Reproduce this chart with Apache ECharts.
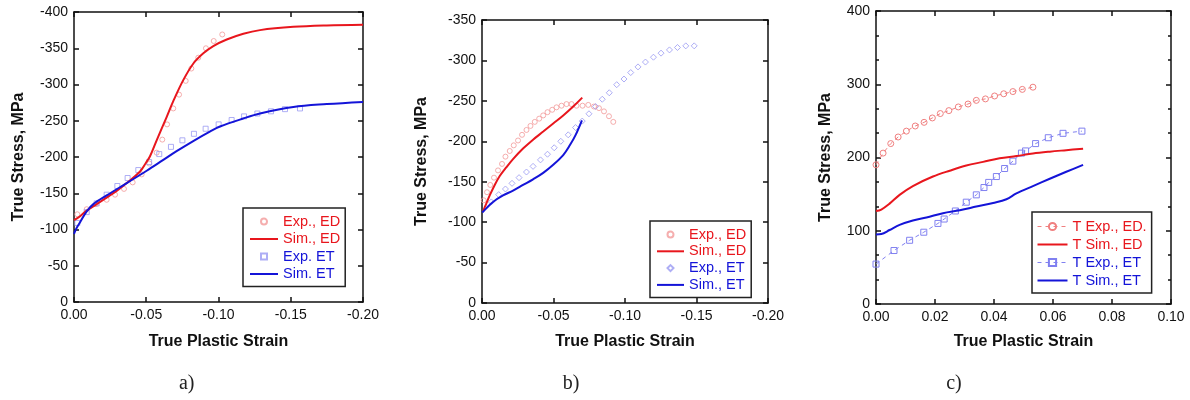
<!DOCTYPE html>
<html><head><meta charset="utf-8">
<script src="https://cdn.jsdelivr.net/npm/echarts@6/dist/echarts.min.js"></script>
<style>html,body{margin:0;padding:0;background:#fff}#c{width:1190px;height:400px}</style>
</head><body><div id="c"></div>
<script>
// ---------------- data (strain, stress) ----------------
// panel a
const aExpED = [[-0.0023,-121],[-0.0088,-128],[-0.0152,-135],[-0.0226,-141],[-0.0284,-148],[-0.0346,-156],[-0.0406,-165],[-0.0468,-176],[-0.0521,-191],[-0.0572,-206],[-0.0611,-224],[-0.0644,-245],[-0.0687,-267],[-0.0727,-286],[-0.0773,-305],[-0.0812,-322],[-0.0860,-337],[-0.0913,-350],[-0.0967,-360],[-0.1026,-369]];
const aSimED = [[0,-113],[-0.004,-118],[-0.0088,-126],[-0.0157,-135],[-0.0226,-144],[-0.0300,-154],[-0.0365,-164],[-0.0457,-180],[-0.0498,-192],[-0.0526,-201],[-0.0572,-223],[-0.0641,-255],[-0.0687,-277],[-0.0756,-306],[-0.0826,-329],[-0.0895,-343],[-0.0964,-353],[-0.1057,-362],[-0.1172,-370],[-0.1287,-375],[-0.1518,-379.5],[-0.1749,-381.5],[-0.2,-382.5]];
const aExpET = [[-0.0023,-109],[-0.0088,-124],[-0.0157,-136],[-0.0226,-148],[-0.0300,-160],[-0.0371,-171],[-0.0445,-182],[-0.0520,-193],[-0.0590,-204],[-0.0671,-214],[-0.0750,-223],[-0.0830,-232],[-0.0911,-239],[-0.1001,-245],[-0.1091,-251],[-0.1177,-256],[-0.1269,-260],[-0.1363,-263],[-0.1460,-266],[-0.1564,-267]];
const aSimET = [[0,-94],[-0.0018,-102],[-0.0042,-110],[-0.0088,-125],[-0.0134,-135],[-0.0226,-147],[-0.0365,-164],[-0.0503,-181],[-0.0618,-196],[-0.0710,-208],[-0.0825,-222],[-0.0940,-235],[-0.1010,-242],[-0.1170,-253],[-0.1287,-260],[-0.1518,-269],[-0.1750,-273],[-0.2,-276]];
// panel b
const bExpED = [[-0.0012,-127],[-0.0035,-137],[-0.0058,-146],[-0.0084,-155],[-0.0112,-164],[-0.0140,-172],[-0.0164,-181],[-0.0194,-188],[-0.0222,-195],[-0.0252,-201],[-0.0280,-208],[-0.0311,-214],[-0.0339,-219],[-0.0369,-224],[-0.0400,-228],[-0.0428,-232],[-0.0458,-236],[-0.0491,-239],[-0.0521,-242],[-0.0556,-244],[-0.0591,-246],[-0.0626,-246],[-0.0661,-244],[-0.0703,-244],[-0.0743,-245],[-0.0783,-243],[-0.0818,-241],[-0.0853,-237],[-0.0888,-231],[-0.0918,-224]];
const bSimED = [[-0.0007,-113],[-0.0030,-123],[-0.0054,-133],[-0.0089,-146],[-0.0124,-157],[-0.0171,-168],[-0.0217,-178],[-0.0287,-191],[-0.0357,-202],[-0.0428,-212],[-0.0498,-222],[-0.0568,-232],[-0.0638,-243],[-0.0701,-254]];
const bExpET = [[-0.0065,-125],[-0.0117,-134],[-0.0164,-141],[-0.0210,-148],[-0.0259,-155],[-0.0311,-162],[-0.0357,-169],[-0.0409,-177],[-0.0458,-184],[-0.0505,-192],[-0.0551,-200],[-0.0603,-208],[-0.0654,-217],[-0.0701,-225],[-0.0748,-234],[-0.0794,-243],[-0.0841,-252],[-0.0890,-260],[-0.0942,-270],[-0.0993,-277],[-0.1040,-285],[-0.1091,-292],[-0.1143,-298],[-0.1199,-304],[-0.1252,-309],[-0.1311,-313],[-0.1367,-316],[-0.1425,-318],[-0.1484,-318]];
const bSimET = [[-0.0002,-112],[-0.0030,-117],[-0.0077,-125],[-0.0147,-133],[-0.0217,-139],[-0.0287,-146],[-0.0357,-153],[-0.0428,-161],[-0.0498,-171],[-0.0568,-183],[-0.0614,-195],[-0.0655,-208],[-0.0699,-226]];
// panel c
const cExpED = [[0,190],[0.0024,206],[0.0050,219],[0.0075,228],[0.0103,236],[0.0133,243],[0.0163,248],[0.0191,254],[0.0218,260],[0.0247,264],[0.0279,269],[0.0312,273],[0.0340,278],[0.0371,280],[0.0402,284],[0.0433,287],[0.0464,290],[0.0496,293],[0.0532,296]];
const cSimED = [[0,127],[0.0018,129],[0.0046,137],[0.0080,149],[0.0125,161],[0.0193,174],[0.0250,182],[0.0306,189],[0.0363,194],[0.0419,199],[0.0476,202],[0.0532,205.5],[0.0589,208],[0.0645,210],[0.0702,212]];
const cExpET = [[0,54.5],[0.0061,73],[0.0114,87],[0.0162,98],[0.0210,110],[0.0231,116],[0.0269,127],[0.0306,139],[0.0340,149],[0.0366,159],[0.0382,166],[0.0408,174],[0.0436,185],[0.0464,195],[0.0493,206],[0.0507,209],[0.0541,219],[0.0584,227],[0.0634,233],[0.0698,236]];
const cSimET = [[0,95],[0.0018,95.5],[0.0046,101],[0.0080,108],[0.0125,114],[0.0171,118],[0.0227,124],[0.0284,128],[0.0340,133],[0.0397,138],[0.0442,143],[0.0476,151],[0.0532,161],[0.0589,171],[0.0645,180.5],[0.0702,190]];

const legendA = ['Exp., ED','Sim., ED','Exp. ET','Sim. ET'];
const legendB = ['Exp., ED','Sim., ED','Exp., ET','Sim., ET'];
const legendC = ['T Exp., ED.','T Sim., ED','T Exp., ET','T Sim., ET'];
const captions = ['a)','b)','c)'];
const xName = 'True Plastic Strain';
const yName = 'True Stress, MPa';

// ---------------- styling ----------------
const FONT = '"Liberation Sans", Arial, sans-serif';
const INK = '#111';
const RED = '#e8161d', BLUE = '#1414d8';
const RED_MK = '#f39a9a', BLUE_MK = '#9a9af2';
const ICON = {
  circle: 'path://M5,0A5,5 0 1,1 4.99,0Z',
  rect: 'path://M0,0H10V10H0Z',
  diamond: 'path://M5,0L10,5L5,10L0,5Z'
};

const grids = [
  {left:74, top:12, width:289, height:290},
  {left:482, top:20, width:286, height:283},
  {left:876, top:11, width:295, height:293}
];

function fmtX(v){ return Math.abs(v) < 1e-9 ? '0.00' : v.toFixed(2); }
function fmtY(v){ return Math.abs(v) < 1e-9 ? '0' : String(Math.round(v)); }

const lineStyleAx = {color:INK, width:1.5};
function xAxes(g, min, max, interval, inverse, nameGap){
  const base = {gridIndex:g, type:'value', min, max, interval, inverse,
    splitLine:{show:false},
    axisLine:{show:true, onZero:false, lineStyle:lineStyleAx},
    axisTick:{show:true, inside:true, length:5, lineStyle:lineStyleAx}};
  return [
    Object.assign({}, base, {position:'bottom',
      axisLabel:{show:true, formatter:fmtX, margin:6, color:INK, fontSize:14, fontFamily:FONT},
      name:xName, nameLocation:'middle', nameGap:nameGap,
      nameTextStyle:{fontWeight:'bold', fontSize:16, color:INK, fontFamily:FONT}}),
    Object.assign({}, base, {position:'top', axisLabel:{show:false}})
  ];
}
function yAxes(g, min, max, interval, inverse, nameGap, minor){
  const base = {gridIndex:g, type:'value', min, max, interval, inverse,
    splitLine:{show:false},
    axisLine:{show:true, onZero:false, lineStyle:lineStyleAx},
    axisTick:{show:true, inside:true, length:5, lineStyle:lineStyleAx},
    minorTick: minor ? {show:true, splitNumber:3, length:3, lineStyle:{color:INK, width:1.5}} : {show:false},
    minorSplitLine:{show:false}};
  return [
    Object.assign({}, base, {position:'left',
      axisLabel:{show:true, formatter:fmtY, margin:6, color:INK, fontSize:14, fontFamily:FONT},
      name:yName, nameLocation:'middle', nameGap:nameGap, nameRotate:90,
      nameTextStyle:{fontWeight:'bold', fontSize:16, color:INK, fontFamily:FONT}}),
    Object.assign({}, base, {position:'right', axisLabel:{show:false}})
  ];
}

const xAxis = [].concat(
  xAxes(0, -0.2, 0, 0.05, true, 32),
  xAxes(1, -0.2, 0, 0.05, true, 31),
  xAxes(2, 0, 0.1, 0.02, false, 30)
);
const yAxis = [].concat(
  yAxes(0, -400, 0, 50, true, 47, false),
  yAxes(1, -350, 0, 50, true, 52, false),
  yAxes(2, 0, 400, 100, false, 42, true)
);

function scatterS(name, data, ax, symbol, color, size){
  return {name, type:'scatter', xAxisIndex:ax, yAxisIndex:ax, data,
    symbol, symbolSize:size, z:2,
    itemStyle:{color:'transparent', borderColor:color, borderWidth:1}};
}
function simS(name, data, ax, color){
  return {name, type:'line', xAxisIndex:ax, yAxisIndex:ax, data,
    symbol:'none', smooth:0.35, z:3,
    lineStyle:{color, width:2}, itemStyle:{color}};
}
function expLineS(name, data, ax, symbol, color, size){
  return {name, type:'line', xAxisIndex:ax, yAxisIndex:ax, data,
    symbol, symbolSize:size, showAllSymbol:true, z:2,
    lineStyle:{color, width:1, type:[4,4]},
    itemStyle:{color:'transparent', borderColor:color, borderWidth:1}};
}

const series = [
  scatterS(legendA[0], aExpED, 0, 'circle', RED_MK, 5),
  scatterS(legendA[2], aExpET, 0, 'rect', BLUE_MK, 5),
  simS(legendA[1], aSimED, 0, RED),
  simS(legendA[3], aSimET, 0, BLUE),
  scatterS(legendB[0], bExpED, 2, 'circle', RED_MK, 5),
  scatterS(legendB[2], bExpET, 2, 'diamond', BLUE_MK, 6),
  simS(legendB[1], bSimED, 2, RED),
  simS(legendB[3], bSimET, 2, BLUE),
  expLineS(legendC[0], cExpED, 4, 'circle', '#f08080', 6),
  expLineS(legendC[2], cExpET, 4, 'rect', '#8080f0', 6),
  simS(legendC[1], cSimED, 4, RED),
  simS(legendC[3], cSimET, 4, BLUE)
];

function legendItems(names, w, expIcons){
  return names.map((n,i)=>{
    const it = {name:n, textStyle:{color: i < 2 ? RED : BLUE}};
    if (i % 2 === 1) it.icon = 'path://M0,0H'+w+'V2H0Z';
    else if (expIcons) it.icon = expIcons[i/2];
    else it.lineStyle = {width:1};
    return it;
  });
}
function legendBox(names, left, top, w, gap, pad, ih, expIcons){
  return {left, top, orient:'vertical', selectedMode:false,
    padding:pad, itemGap:gap, itemWidth:w, itemHeight:ih,
    borderColor:'#222', borderWidth:1.5, backgroundColor:'#fff',
    textStyle:{fontSize:14.5, fontFamily:FONT},
    data:legendItems(names, w, expIcons)};
}

const legend = [
  legendBox(legendA, 243, 208, 28, 2.5, [6,5,5,7], 6, [ICON.circle, ICON.rect]),
  legendBox(legendB, 650, 221, 27, 1.8, [6,5,5,7], 6, [ICON.circle, ICON.diamond]),
  legendBox(legendC, 1032, 212, 30, 3, [7,5,5,5], 9, null)
];

const capX = [186.7, 571, 954];
const graphic = captions.map((t,i)=>({type:'text', x:capX[i], y:384,
  style:{text:t, align:'center', verticalAlign:'middle', font:'20px "Liberation Serif", "Times New Roman", serif', fill:'#222'}}));

const chart = echarts.init(document.getElementById('c'), null, {renderer:'canvas'});
chart.setOption({animation:false, backgroundColor:'#fff', grid:grids, xAxis, yAxis, series, legend, graphic});
</script>
</body></html>
